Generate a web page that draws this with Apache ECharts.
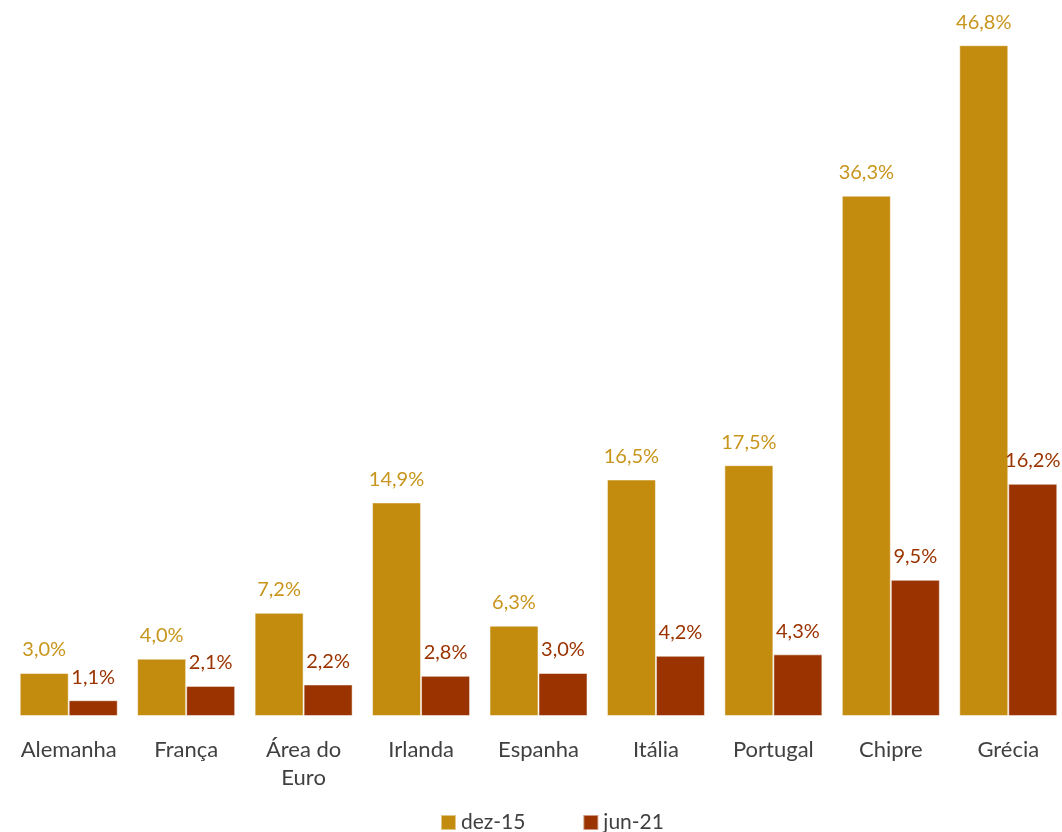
<!DOCTYPE html>
<html>
<head>
<meta charset="utf-8">
<script src="https://cdn.jsdelivr.net/npm/echarts@6/dist/echarts.min.js"></script>
<style>html,body{margin:0;padding:0;background:#fff;overflow:hidden}#c{width:1072px;height:832px}</style>
</head>
<body>
<div id="c"></div>
<script>
const categories = ['Alemanha', 'França', 'Área do\nEuro', 'Irlanda', 'Espanha', 'Itália', 'Portugal', 'Chipre', 'Grécia'];
const seriesNames = ['dez-15', 'jun-21'];
const dez15 = [3.0, 4.0, 7.2, 14.9, 6.3, 16.5, 17.5, 36.3, 46.8];
const jun21 = [1.1, 2.1, 2.2, 2.8, 3.0, 4.2, 4.3, 9.5, 16.2];

const FONT = 'Lato';
const fmt = p => p.value.toFixed(1).replace('.', ',') + '%';
const chart = echarts.init(document.getElementById('c'));
chart.setOption({
  animation: false,
  textStyle: { fontFamily: FONT },
  grid: { left: 10, width: 1057, top: 28, bottom: 116, containLabel: false },
  legend: {
    top: 807, left: 435, itemWidth: 15, itemHeight: 15, itemGap: 57,
    icon: 'rect',
    textStyle: { fontFamily: FONT, fontSize: 21, color: '#404040' },
    data: seriesNames
  },
  xAxis: {
    type: 'category', data: categories,
    axisLine: { show: false }, axisTick: { show: false },
    axisLabel: { fontFamily: FONT, fontSize: 22, color: '#404040', margin: 20, lineHeight: 28, interval: 0 }
  },
  yAxis: { type: 'value', min: 0, max: 48, show: false, splitLine: { show: false } },
  series: [
    {
      name: seriesNames[0], type: 'bar', data: dez15, barGap: '0%', barWidth: 49,
      itemStyle: { color: '#C48C0F', borderColor: 'rgba(255,255,255,0.5)', borderWidth: 1 },
      label: { show: true, position: 'top', distance: 13, formatter: fmt, fontFamily: FONT, fontSize: 20, color: '#C8951D' }
    },
    {
      name: seriesNames[1], type: 'bar', data: jun21, barGap: '0%', barWidth: 49,
      itemStyle: { color: '#9B3300', borderColor: 'rgba(255,255,255,0.5)', borderWidth: 1 },
      label: { show: true, position: 'top', distance: 13, formatter: fmt, fontFamily: FONT, fontSize: 20, color: '#9B3300' }
    }
  ]
});
</script>
</body>
</html>
